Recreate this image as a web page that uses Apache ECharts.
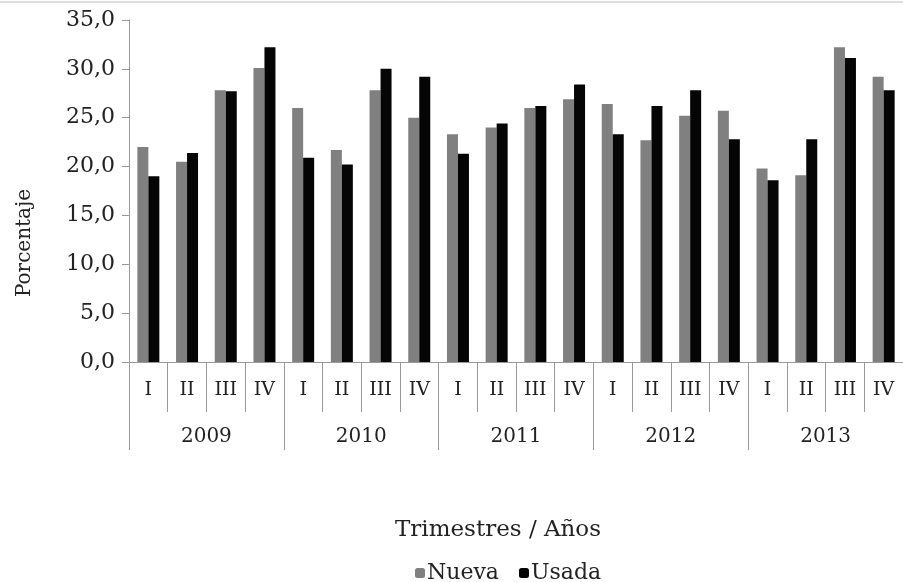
<!DOCTYPE html>
<html>
<head>
<meta charset="utf-8">
<style>
  html, body { margin: 0; padding: 0; background: #fff; }
  #chart { width: 903px; height: 582px; }
</style>
<script src="https://cdn.jsdelivr.net/npm/echarts@6/dist/echarts.min.js"></script>
</head>
<body>
<div id="chart"></div>
<script>
// trimestres y años
const quarters = ['I', 'II', 'III', 'IV', 'I', 'II', 'III', 'IV', 'I', 'II', 'III', 'IV',
  'I', 'II', 'III', 'IV', 'I', 'II', 'III', 'IV']
const years = ['2009', '2010', '2011', '2012', '2013']

// porcentaje por trimestre
const nueva = [22.0, 20.5, 27.8, 30.1, 26.0, 21.7, 27.8, 25.0, 23.3, 24.0, 26.0, 26.9,
  26.4, 22.7, 25.2, 25.7, 19.8, 19.1, 32.2, 29.2]
const usada = [19.0, 21.4, 27.7, 32.2, 20.9, 20.2, 30.0, 29.2, 21.3, 24.4, 26.2, 28.4,
  23.3, 26.2, 27.8, 22.8, 18.6, 22.8, 31.1, 27.8]

const yTicks = [0, 5, 10, 15, 20, 25, 30, 35]

const serif = '"DejaVu Serif", "Liberation Serif", serif'
const chart = echarts.init(document.getElementById('chart'))

chart.setOption({
  backgroundColor: '#fff',
  animation: false,
  textStyle: { fontFamily: serif, color: '#222' },
  grid: { left: 129, right: -4, top: 20, bottom: 220 },
  title: {
    text: 'Trimestres / Años',
    left: 390,
    top: 514,
    textStyle: { fontFamily: serif, fontSize: 23, fontWeight: 'normal', color: '#222' }
  },
  legend: {
    left: 410,
    top: 557,
    itemWidth: 10,
    itemHeight: 10,
    itemGap: 20,
    textStyle: { fontFamily: serif, fontSize: 22, color: '#222', padding: [0, 0, 0, -3] },
    data: ['Nueva', 'Usada']
  },
  graphic: [
    {
      type: 'line',
      shape: { x1: 0, y1: 2, x2: 903, y2: 2 },
      style: { stroke: '#bbb', lineWidth: 1 }
    },
    {
      type: 'text',
      x: 25,
      y: 243,
      rotation: Math.PI / 2,
      style: {
        text: 'Porcentaje',
        font: '20px ' + serif,
        fill: '#222',
        align: 'center',
        verticalAlign: 'middle'
      }
    }
  ],
  xAxis: [
    {
      type: 'category',
      data: quarters,
      axisLine: { show: true, lineStyle: { color: '#999' } },
      axisTick: { show: true, interval: 0, length: 50, lineStyle: { color: '#999' } },
      axisLabel: { interval: 0, margin: 19, fontSize: 19, color: '#222', fontFamily: serif }
    },
    {
      type: 'category',
      data: years,
      position: 'bottom',
      axisLine: { show: false },
      axisTick: { show: true, interval: 0, length: 88, lineStyle: { color: '#999' } },
      axisLabel: { interval: 0, margin: 65, fontSize: 20, color: '#222', fontFamily: serif }
    }
  ],
  yAxis: {
    type: 'value',
    min: yTicks[0],
    max: yTicks[yTicks.length - 1],
    interval: 5,
    axisLine: { show: true, lineStyle: { color: '#999' } },
    axisTick: { show: true, length: 7, lineStyle: { color: '#999' } },
    splitLine: { show: false },
    axisLabel: {
      margin: 14,
      fontSize: 22,
      color: '#222',
      fontFamily: serif,
      formatter: (v) => v.toFixed(1).replace('.', ',')
    }
  },
  series: [
    {
      name: 'Nueva',
      type: 'bar',
      data: nueva,
      barWidth: 11,
      barGap: '0%',
      itemStyle: { color: '#808080' }
    },
    {
      name: 'Usada',
      type: 'bar',
      data: usada,
      barWidth: 11,
      barGap: '0%',
      itemStyle: { color: '#050505' }
    }
  ]
})
</script>
</body>
</html>
